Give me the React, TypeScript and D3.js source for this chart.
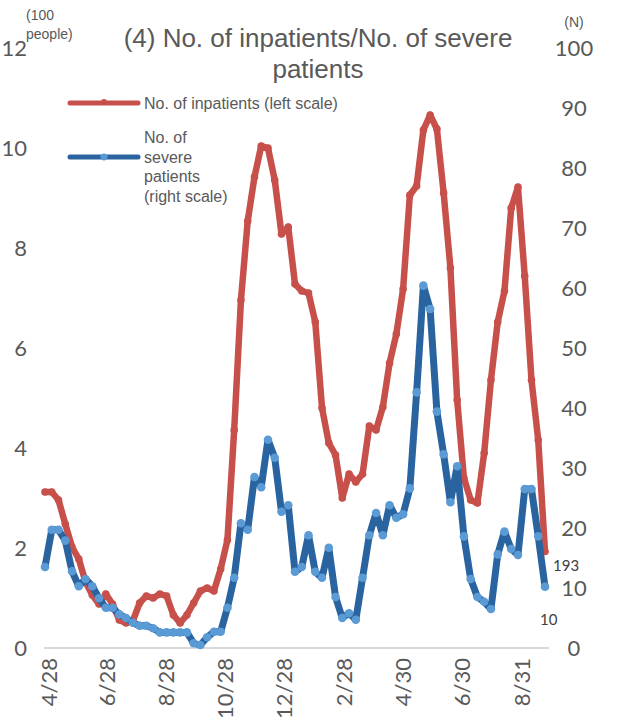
import React from "react";
import * as d3 from "d3";

const firstWeek = "2020-04-24";
const lastWeek = "2021-09-24";

const inpatients = [
  3.12, 3.12, 2.96, 2.48, 2.02, 1.78, 1.32, 1.06, 0.88, 1.08,
  0.88, 0.56, 0.5, 0.54, 0.9, 1.04, 1.0, 1.08, 1.04, 0.66,
  0.5, 0.66, 0.9, 1.14, 1.2, 1.14, 1.58, 2.16, 4.36, 6.96,
  8.54, 9.42, 10.04, 10.0, 9.36, 8.28, 8.42, 7.28, 7.14, 7.1,
  6.52, 4.8, 4.1, 3.86, 3.0, 3.48, 3.32, 3.48, 4.44, 4.36,
  4.82, 5.7, 6.28, 7.18, 9.06, 9.24, 10.36, 10.66, 10.38, 9.1,
  7.6, 4.96, 3.4, 2.96, 2.9, 3.9, 5.36, 6.52, 7.14, 8.8,
  9.22, 7.44, 5.36, 4.16, 1.93,
];

const severe = [
  13.5, 19.7, 19.7, 17.9, 12.8, 10.3, 11.5, 10.3, 8.3, 6.7,
  6.7, 5.6, 5.0, 4.2, 3.7, 3.7, 3.3, 2.6, 2.6, 2.6,
  2.6, 2.6, 0.8, 0.5, 1.8, 2.7, 2.7, 6.7, 11.7, 20.8,
  19.7, 28.5, 26.8, 34.7, 31.7, 22.7, 23.8, 12.7, 13.5, 18.8,
  12.7, 11.7, 16.7, 8.5, 5.0, 5.8, 4.7, 11.7, 18.8, 22.5,
  18.8, 23.8, 21.7, 22.3, 26.6, 42.6, 60.4, 56.5, 39.4, 32.3,
  24.3, 30.3, 18.6, 11.5, 8.5, 7.7, 6.5, 15.6, 19.4, 16.5,
  15.5, 26.5, 26.5, 18.6, 10.2,
];

const xLabelDates = [
  "2020-04-28", "2020-06-28", "2020-08-28", "2020-10-28", "2020-12-28",
  "2021-02-28", "2021-04-30", "2021-06-30", "2021-08-31",
];
const xLabels = ["4/28", "6/28", "8/28", "10/28", "12/28", "2/28", "4/30", "6/30", "8/31"];
const leftTicks = [0, 2, 4, 6, 8, 10, 12];
const rightTicks = [0, 10, 20, 30, 40, 50, 60, 70, 80, 90, 100];

const titleLines = ["(4) No. of inpatients/No. of severe", "patients"];
const legendRed = "No. of inpatients (left scale)";
const legendBlue = ["No. of", "severe", "patients", "(right scale)"];
const lastInpatientsLabel = "193";
const lastSevereLabel = "10";

const RED = "#C8504B";
const BLUE = "#2A64A0";
const BLUE_MARK = "#5B9BD5";
const TEXT = "#595959";
const TICKFONT = "Lato, 'Open Sans', sans-serif";
const SANS = "'Liberation Sans', Arial, sans-serif";

export default function App() {
  const parse = d3.utcParse("%Y-%m-%d");
  const start = parse(firstWeek) as Date;
  const end = parse(lastWeek) as Date;
  const weeks = d3.range(inpatients.length).map((i) => d3.utcDay.offset(start, i * 7));

  const x = d3.scaleUtc().domain([start, end]).range([45, 545]);
  const yL = d3.scaleLinear().domain([0, 12]).range([648, 48]);
  const yR = d3.scaleLinear().domain([0, 100]).range([648, 48]);

  const redLine = d3
    .line<number>()
    .x((_, i) => x(weeks[i]))
    .y((d) => yL(d));
  const blueLine = d3
    .line<number>()
    .x((_, i) => x(weeks[i]))
    .y((d) => yR(d));

  const lastI = inpatients.length - 1;

  return (
    <svg
      width={624}
      height={721}
      style={{ position: "absolute", left: 0, top: 0, background: "#fff" }}
    >
      {/* title */}
      <text x={318} y={47} textAnchor="middle" fontFamily={SANS} fontSize={26} fill={TEXT}>
        {titleLines[0]}
      </text>
      <text x={318} y={78} textAnchor="middle" fontFamily={SANS} fontSize={26} fill={TEXT}>
        {titleLines[1]}
      </text>

      {/* unit labels */}
      <text x={26} y={20} fontFamily={SANS} fontSize={14} fill={TEXT}>(100</text>
      <text x={26} y={39} fontFamily={SANS} fontSize={14} fill={TEXT}>people)</text>
      <text x={574} y={27} textAnchor="middle" fontFamily={SANS} fontSize={14} fill={TEXT}>(N)</text>

      {/* left axis ticks */}
      {leftTicks.map((t) => (
        <text key={"l" + t} x={27} y={yL(t)} dy="0.35em" textAnchor="end" fontFamily={TICKFONT} fontSize={22} fill={TEXT}>
          {t}
        </text>
      ))}
      {/* right axis ticks */}
      {rightTicks.map((t) => (
        <text key={"r" + t} x={574} y={yR(t)} dy="0.35em" textAnchor="middle" fontFamily={TICKFONT} fontSize={22} fill={TEXT}>
          {t}
        </text>
      ))}

      {/* baseline */}
      <line x1={44} x2={549} y1={yL(0)} y2={yL(0)} stroke="#D9D9D9" strokeWidth={2} />

      {/* x labels */}
      {xLabelDates.map((ds, i) => {
        const px = x(parse(ds) as Date);
        return (
          <text
            key={ds}
            transform={`translate(${px},658) rotate(-90)`}
            dy="0.35em"
            textAnchor="end"
            fontFamily={TICKFONT}
            fontSize={22}
            fill={TEXT}
          >
            {xLabels[i]}
          </text>
        );
      })}

      {/* inpatients */}
      <path d={redLine(inpatients) || ""} fill="none" stroke={RED} strokeWidth={6.5} strokeLinejoin="round" strokeLinecap="round" />
      {inpatients.map((v, i) => (
        <circle key={"rc" + i} cx={x(weeks[i])} cy={yL(v)} r={3.8} fill={RED} />
      ))}

      {/* severe */}
      <path d={blueLine(severe) || ""} fill="none" stroke={BLUE} strokeWidth={7} strokeLinejoin="round" strokeLinecap="round" />
      {severe.map((v, i) => (
        <circle key={"bc" + i} cx={x(weeks[i])} cy={yR(v)} r={4.3} fill={BLUE_MARK} />
      ))}

      {/* end labels */}
      <text x={x(weeks[lastI]) + 8} y={yL(inpatients[lastI]) + 19} fontFamily={TICKFONT} fontSize={15} fill="#404040">
        {lastInpatientsLabel}
      </text>
      <text x={x(weeks[lastI]) - 5} y={yR(severe[lastI]) + 38} fontFamily={TICKFONT} fontSize={15} fill="#404040">
        {lastSevereLabel}
      </text>

      {/* legend */}
      <line x1={70} x2={138} y1={103} y2={103} stroke={RED} strokeWidth={5} strokeLinecap="round" />
      <circle cx={104} cy={102} r={3} fill={RED} />
      <text x={144} y={109} fontFamily={SANS} fontSize={16} fill={TEXT}>{legendRed}</text>

      <line x1={70} x2={138} y1={157} y2={157} stroke={BLUE} strokeWidth={5} strokeLinecap="round" />
      <circle cx={104} cy={157} r={3.5} fill={BLUE_MARK} />
      {legendBlue.map((s, i) => (
        <text key={s} x={144} y={143 + i * 19.5} fontFamily={SANS} fontSize={16} fill={TEXT}>
          {s}
        </text>
      ))}
    </svg>
  );
}
